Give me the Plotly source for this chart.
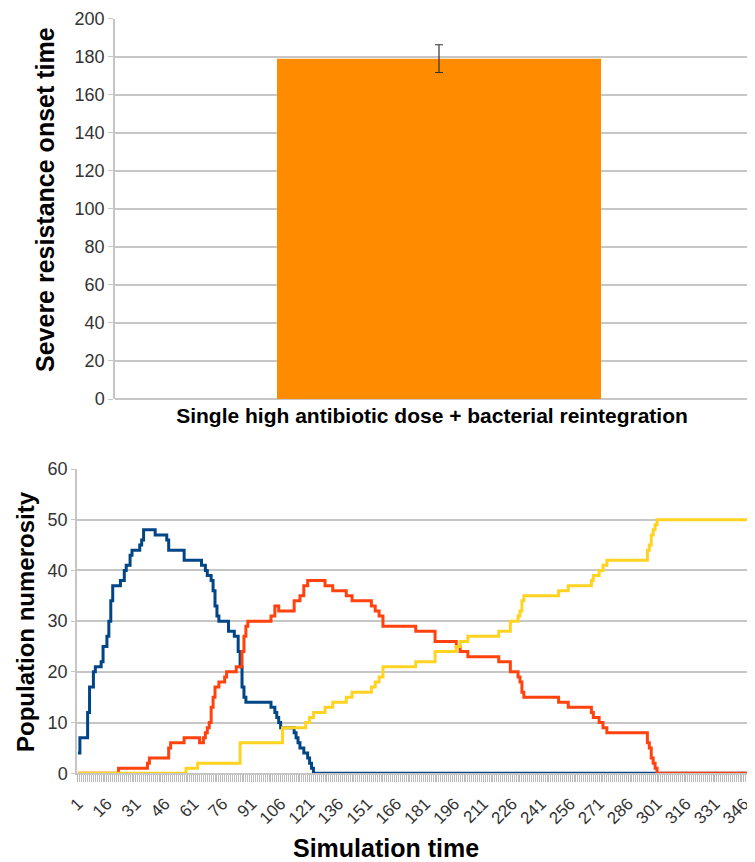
import plotly.graph_objects as go

# ---------------- data ----------------
bar_categories = ["Single high antibiotic dose + bacterial reintegration"]
bar_values = [179]
bar_errors = [7.3]

top_y_ticks = [0, 20, 40, 60, 80, 100, 120, 140, 160, 180, 200]
bottom_y_ticks = [0, 10, 20, 30, 40, 50, 60]
x_tick_labels = [1, 16, 31, 46, 61, 76, 91, 106, 121, 136, 151, 166, 181, 196,
                 211, 226, 241, 256, 271, 286, 301, 316, 331, 346]

# step series: time at which a new level starts, and that level
blue_t = [1, 2, 6, 7, 9, 10, 13, 14, 16, 17, 18, 19, 23, 25, 26, 28, 29, 33, 34, 35,
          41, 47, 48, 56, 65, 67, 68, 70, 71, 72, 73, 74, 79, 82, 84, 85, 86, 87, 88,
          101, 103, 104, 105, 106, 113, 114, 115, 116, 118, 120, 121, 122, 123, 356]
blue_v = [4, 7, 12, 17, 20, 21, 22, 25, 27, 30, 34, 37, 38, 40, 41, 43, 44, 45, 46, 48,
          47, 46, 44, 42, 41, 40, 39, 38, 36, 33, 31, 30, 28, 27, 24, 21, 17, 15, 14,
          13, 12, 11, 10, 9, 8, 7, 6, 5, 4, 3, 2, 1, 0, 0]

red_t = [1, 22, 37, 38, 48, 49, 56, 64, 66, 67, 68, 69, 70, 71, 72, 74, 77, 78, 83,
         86, 87, 88, 89, 101, 103, 105, 113, 116, 118, 120, 129, 133, 140, 143, 153,
         155, 157, 159, 176, 186, 197, 199, 203, 219, 225, 229, 230, 231, 232, 250,
         255, 267, 268, 271, 273, 275, 296, 297, 298, 299, 300, 301, 356]
red_v = [0, 1, 2, 3, 5, 6, 7, 6, 7, 8, 9, 10, 13, 15, 17, 18, 19, 20, 21,
         24, 27, 29, 30, 31, 33, 32, 34, 35, 37, 38, 37, 36, 35, 34, 33,
         32, 31, 29, 28, 26, 25, 24, 23, 22, 20, 19, 18, 16, 15, 14,
         13, 12, 11, 10, 9, 8, 6, 5, 3, 2, 1, 0, 0]

yellow_t = [1, 57, 63, 85, 107, 119, 121, 123, 129, 133, 140, 143, 153, 155, 157,
            159, 176, 186, 197, 199, 203, 219, 225, 229, 230, 231, 232, 250, 255,
            267, 268, 271, 273, 275, 296, 297, 298, 299, 300, 301, 356]
yellow_v = [0, 1, 2, 6, 9, 10, 11, 12, 13, 14, 15, 16, 17, 18, 19,
            21, 22, 24, 25, 26, 27, 28, 30, 31, 32, 34, 35, 36, 37,
            38, 39, 40, 41, 42, 44, 45, 47, 48, 49, 50, 50]

top_y_title = "Severe resistance onset time"
bottom_y_title = "Population numerosity"
bottom_x_title = "Simulation time"

# ---------------- figure ----------------
W, H = 755, 862
OFF = 8  # page body margin
FONT = "Liberation Sans, Arial, sans-serif"
GRID = "#c6c6c6"


def px(xp):
    return (xp - OFF) / W


def py(yp):
    return 1 - (yp - OFF) / H


fig = go.Figure()

fig.add_trace(go.Bar(
    x=bar_categories, y=bar_values, width=0.5,
    marker=dict(color="#ff8c00", line=dict(width=0)),
    error_y=dict(type="data", array=bar_errors, color="#333333", thickness=1.2, width=4),
    xaxis="x", yaxis="y", showlegend=False,
))

for t, v, c in [(blue_t, blue_v, "#004586"), (red_t, red_v, "#ff420e"), (yellow_t, yellow_v, "#ffd320")]:
    fig.add_trace(go.Scatter(
        x=t, y=v, mode="lines", line=dict(color=c, width=3, shape="hv"),
        xaxis="x2", yaxis="y2", showlegend=False,
    ))

fig.update_layout(
    width=W, height=H,
    margin=dict(l=0, r=0, t=0, b=0, autoexpand=False),
    paper_bgcolor="white", plot_bgcolor="white",
    font=dict(family=FONT, color="#333333"),
    xaxis=dict(
        domain=[px(115), 1], range=[-0.5, 0.5], type="category", anchor="y",
        showgrid=False, showline=False, zeroline=False, ticks="",
        tickfont=dict(size=21, color="black", family=FONT, weight="bold"),
        ticklabelshift=-7, ticklabelstandoff=2, automargin=False,
    ),
    yaxis=dict(
        domain=[py(399), py(18.7)], range=[0, 200], anchor="x",
        tickvals=top_y_ticks, showgrid=True, gridcolor=GRID, gridwidth=1.5,
        zeroline=True, zerolinecolor=GRID, zerolinewidth=1.5,
        showline=True, linecolor=GRID, linewidth=1.5,
        ticks="outside", ticklen=5, tickcolor=GRID, automargin=False,
        tickfont=dict(size=18, color="#333333"),
    ),
    xaxis2=dict(
        domain=[px(77), 1], range=[0.5, 355.9], anchor="y2",
        tickmode="array", tickvals=x_tick_labels, ticktext=[str(v) for v in x_tick_labels],
        tickangle=-45, showgrid=False, zeroline=False,
        showline=True, linecolor=GRID, linewidth=1.5,
        ticks="outside", ticklen=7, tickcolor="#b5b5b5", automargin=False,
        minor=dict(dtick=1, tick0=1, ticks="outside", ticklen=7, tickcolor="#bdbdbd", tickwidth=1),
        tickfont=dict(size=17, color="#333333"), ticklabelstandoff=5,
    ),
    yaxis2=dict(
        domain=[py(773.3), py(469)], range=[0, 60], anchor="x2",
        tickvals=bottom_y_ticks, showgrid=True, gridcolor=GRID, gridwidth=1.5,
        zeroline=False, showline=True, linecolor=GRID, linewidth=1.5,
        ticks="outside", ticklen=4, tickcolor=GRID, automargin=False,
        tickfont=dict(size=18, color="#333333"),
    ),
    annotations=[
        dict(text=top_y_title, x=px(45), y=py(200), xref="paper", yref="paper",
             textangle=-90, showarrow=False, xanchor="center", yanchor="middle",
             font=dict(size=25, color="black", family=FONT, weight="bold")),
        dict(text=bottom_y_title, x=px(25), y=py(622), xref="paper", yref="paper",
             textangle=-90, showarrow=False, xanchor="center", yanchor="middle",
             font=dict(size=24, color="black", family=FONT, weight="bold")),
        dict(text=bottom_x_title, x=px(386), y=py(848), xref="paper", yref="paper",
             showarrow=False, xanchor="center", yanchor="middle",
             font=dict(size=25, color="black", family=FONT, weight="bold")),
    ],
)

fig.write_html("out.html")
